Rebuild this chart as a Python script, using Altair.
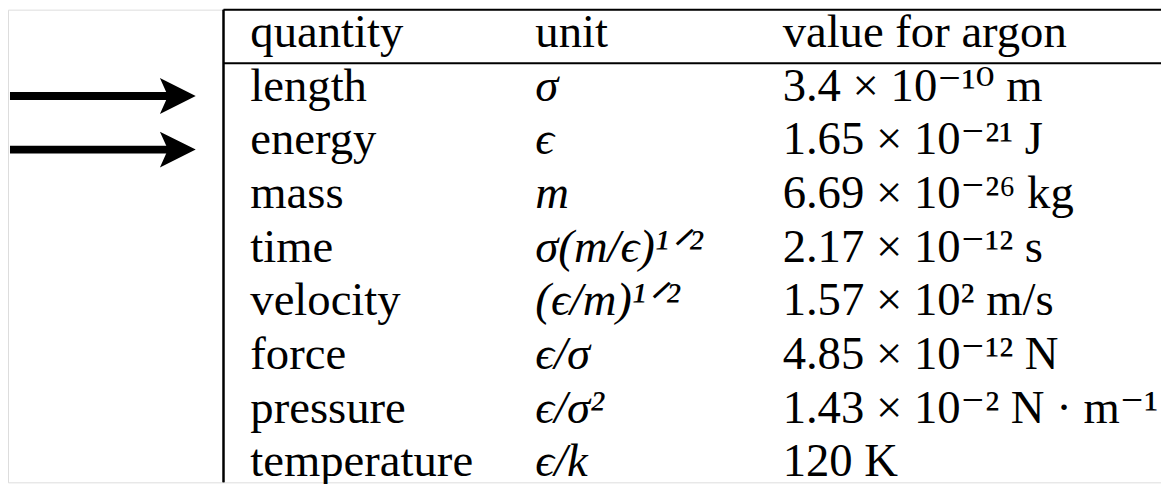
import altair as alt
import pandas as pd

headers = ["quantity", "unit", "value for argon"]
quantities = ["length", "energy", "mass", "time", "velocity", "force", "pressure", "temperature"]
units = ["σ", "ϵ", "m", "σ(m/ϵ)¹ᐟ²", "(ϵ/m)¹ᐟ²", "ϵ/σ", "ϵ/σ²", "ϵ/k"]
values = [
    "3.4 × 10⁻¹⁰ m",
    "1.65 × 10⁻²¹ J",
    "6.69 × 10⁻²⁶ kg",
    "2.17 × 10⁻¹² s",
    "1.57 × 10² m/s",
    "4.85 × 10⁻¹² N",
    "1.43 × 10⁻² N · m⁻¹",
    "120 K",
]
arrow_rows = ["length", "energy"]

body = pd.DataFrame({"row": list(range(1, 9)), "quantity": quantities, "unit": units, "value": values})
head = pd.DataFrame({"row": [0], "quantity": [headers[0]], "unit": [headers[1]], "value": [headers[2]]})
arrows = pd.DataFrame({"row": [quantities.index(r) + 1 for r in arrow_rows]})
hrules = pd.DataFrame({"row": [0, 1]})

W, H = 1161, 476
FONT = "Liberation Serif, DejaVu Serif, serif"
FS = 47
ROWS = list(range(9))
yscale = alt.Scale(type="band", domain=ROWS, range=[0, 486], paddingInner=0, paddingOuter=0)


def ytext(bp=0.7):
    return alt.Y("row:O", scale=yscale, axis=None, bandPosition=bp)


COLX = {"quantity": 244, "unit": 531, "value": 780}

layers = []
# header text
for col in ["quantity", "unit", "value"]:
    layers.append(
        alt.Chart(head).mark_text(align="left", baseline="alphabetic", font=FONT, fontSize=FS, color="black")
        .encode(x=alt.value(COLX[col]), y=ytext(), text=f"{col}:N")
    )
# body text
for col in ["quantity", "unit", "value"]:
    layers.append(
        alt.Chart(body).mark_text(
            align="left", baseline="alphabetic", font=FONT, fontSize=FS, color="black",
            fontStyle="italic" if col == "unit" else "normal",
        ).encode(x=alt.value(COLX[col]), y=ytext(), text=f"{col}:N")
    )

# horizontal rules (top and below header)
layers.append(
    alt.Chart(hrules).mark_rule(color="black", strokeWidth=2)
    .encode(y=alt.Y("row:O", scale=yscale, axis=None, bandPosition=0), x=alt.value(217), x2=alt.value(W))
)
# vertical rule on left
layers.append(
    alt.Chart(hrules).mark_rule(color="black", strokeWidth=2)
    .encode(x=alt.value(217), y=alt.value(0), y2=alt.value(H))
)
# arrow shafts
layers.append(
    alt.Chart(arrows).mark_rule(color="black", strokeWidth=8)
    .encode(y=ytext(0.61), x=alt.value(2), x2=alt.value(166))
)
# arrow heads
layers.append(
    alt.Chart(arrows).mark_point(
        shape="M 1 0 L -1 -1 L -0.55 0 L -1 1 Z", filled=True, size=1300, color="black", opacity=1, strokeWidth=0
    ).encode(y=ytext(0.61), x=alt.value(171))
)

chart = (
    alt.layer(*layers)
    .properties(width=W, height=H, autosize=alt.AutoSizeParams(type="none"), padding=0)
    .configure_view(stroke=None)
    .configure(background="white")
)

chart.save("out.html", embed_options={"renderer": "svg", "actions": False})
